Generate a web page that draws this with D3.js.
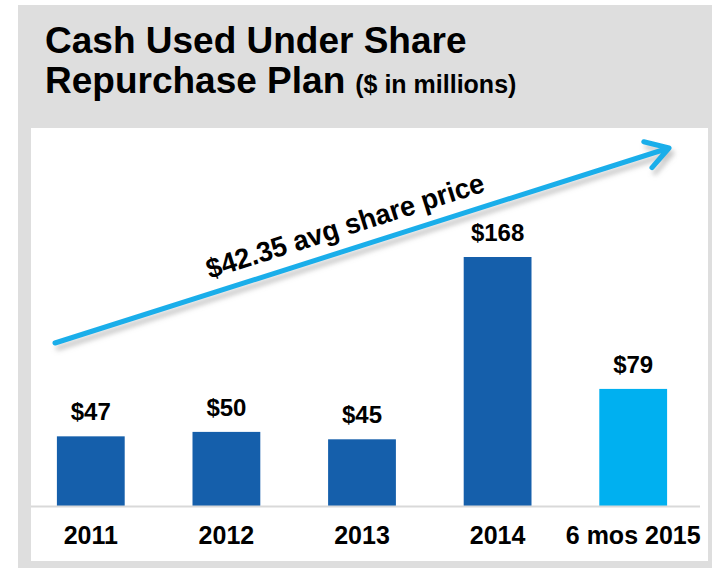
<!DOCTYPE html>
<html lang="en">
<head>
  <meta charset="UTF-8">
  <title>Cash Used Under Share Repurchase Plan</title>
  <script src="https://d3js.org/d3.v7.min.js"></script>
  <style>
    body { margin: 0; background: #fff; overflow: hidden; }
    svg { display: block; font-family: "Liberation Sans", Arial, sans-serif; }
  </style>
</head>
<body>
  <svg id="chart"></svg>
  <script>
    // chart data
    const categories = ["2011", "2012", "2013", "2014", "6 mos 2015"];
    const values = [47, 50, 45, 168, 79];
    const valueLabels = ["$47", "$50", "$45", "$168", "$79"];
    const arrowLabel = "$42.35 avg share price";

    const width = 712, height = 568;
    const svg = d3.select("#chart").attr("width", width).attr("height", height);

    // gray frame and white panel
    svg.append("rect").attr("x", 18).attr("y", 5).attr("width", 694).attr("height", 563).attr("fill", "#dedede");
    svg.append("rect").attr("x", 31).attr("y", 128).attr("width", 677).attr("height", 433).attr("fill", "#ffffff");

    // title
    const title = svg.append("g").attr("font-weight", "bold").attr("fill", "#000");
    title.append("text").attr("x", 45).attr("y", 53).attr("font-size", 37).text("Cash Used Under Share");
    const line2 = title.append("text").attr("x", 45).attr("y", 93).attr("font-size", 37);
    line2.append("tspan").text("Repurchase Plan");
    line2.append("tspan").attr("dx", 10).attr("font-size", 25).text("($ in millions)");

    // scales
    const baseY = 506;
    const x = d3.scaleBand().domain(categories).range([23, 701]).paddingInner(0.5).paddingOuter(0.25);
    const y = d3.scaleLinear().domain([0, 168]).range([baseY, 257]);

    const defs = svg.append("defs");
    const blur = defs.append("filter").attr("id", "shadow").attr("x", "-10%").attr("y", "-50%").attr("width", "120%").attr("height", "200%");
    blur.append("feGaussianBlur").attr("stdDeviation", 2.5);

    // bars
    svg.selectAll("rect.bar")
      .data(values)
      .join("rect")
      .attr("class", "bar")
      .attr("x", (d, i) => x(categories[i]))
      .attr("y", d => y(d))
      .attr("width", x.bandwidth())
      .attr("height", d => baseY - y(d))
      .attr("fill", (d, i) => i === 4 ? "#00b0f0" : "#155fab");

    // baseline
    svg.append("line").attr("x1", 31).attr("x2", 700).attr("y1", baseY + 0.5).attr("y2", baseY + 0.5)
      .attr("stroke", "#d9d9d9").attr("stroke-width", 2);

    // value labels
    svg.selectAll("text.val")
      .data(values)
      .join("text")
      .attr("class", "val")
      .attr("x", (d, i) => x(categories[i]) + x.bandwidth() / 2)
      .attr("y", d => y(d) - 16)
      .attr("text-anchor", "middle")
      .attr("font-size", 24).attr("font-weight", "bold")
      .text((d, i) => valueLabels[i]);

    // category labels
    const xAxis = svg.append("g").attr("transform", `translate(0,${baseY})`)
      .call(d3.axisBottom(x).tickSize(0).tickPadding(0));
    xAxis.select(".domain").remove();
    xAxis.selectAll("text")
      .attr("y", 38)
      .attr("dy", 0)
      .attr("font-size", 25).attr("font-weight", "bold")
      .attr("font-family", "Liberation Sans, Arial, sans-serif")
      .attr("fill", "#000");

    // trend arrow
    const a0 = [55, 343], a1 = [669, 148];
    const ang = Math.atan2(a1[1] - a0[1], a1[0] - a0[0]);
    const head = 26, spread = 0.55;
    const arrowPath = `M${a0[0]},${a0[1]}L${a1[0]},${a1[1]}` +
      `M${a1[0] - head * Math.cos(ang - spread)},${a1[1] - head * Math.sin(ang - spread)}L${a1[0]},${a1[1]}` +
      `L${a1[0] - head * Math.cos(ang + spread)},${a1[1] - head * Math.sin(ang + spread)}`;
    svg.append("path").attr("d", arrowPath).attr("transform", "translate(3,5)")
      .attr("fill", "none").attr("stroke", "#9a9a9a").attr("stroke-opacity", 0.55).attr("stroke-width", 5)
      .attr("stroke-linecap", "round").attr("stroke-linejoin", "round").attr("filter", "url(#shadow)");
    svg.append("path").attr("d", arrowPath)
      .attr("fill", "none").attr("stroke", "#1aaeea").attr("stroke-width", 5)
      .attr("stroke-linecap", "round").attr("stroke-linejoin", "round");

    // arrow label
    const deg = ang * 180 / Math.PI;
    svg.append("text")
      .attr("transform", `translate(348,235) rotate(${deg})`)
      .attr("text-anchor", "middle")
      .attr("font-size", 28).attr("font-weight", "bold")
      .attr("textLength", 290).attr("lengthAdjust", "spacingAndGlyphs")
      .text(arrowLabel);
  </script>
</body>
</html>
